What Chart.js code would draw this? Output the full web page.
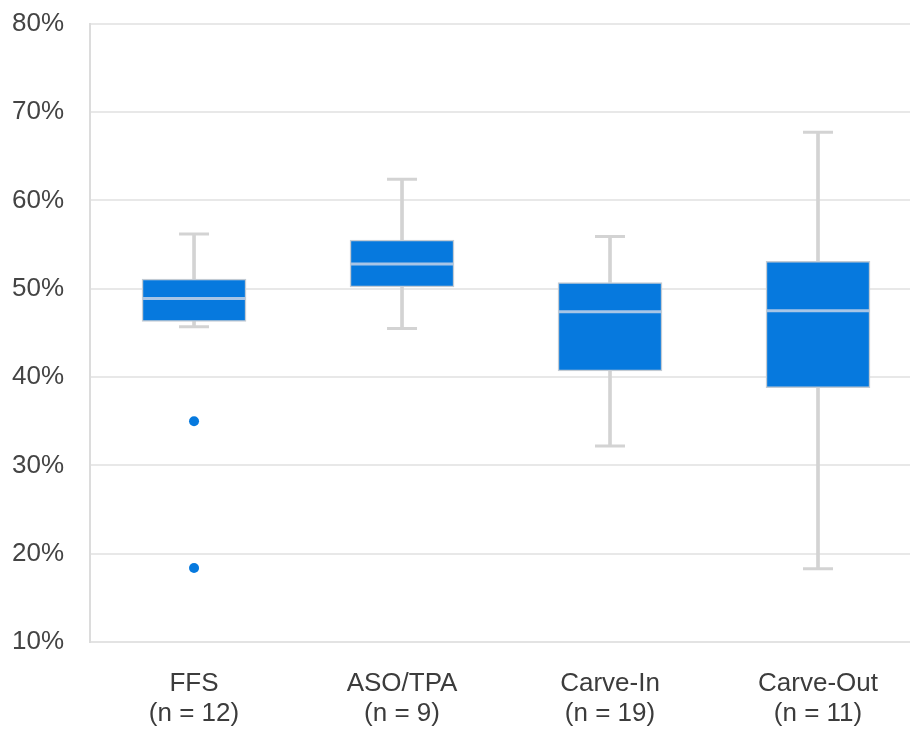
<!DOCTYPE html>
<html>
<head>
<meta charset="utf-8">
<script src="https://cdn.jsdelivr.net/npm/chart.js@4"></script>
<style>
  html, body { margin: 0; padding: 0; background: #fff; overflow: hidden; }
  #wrap { width: 910px; height: 729px; overflow: hidden; position: relative; }
  canvas { display: block; position: absolute; left: -26px; top: -18px; }
</style>
</head>
<body>
<div id="wrap"><canvas id="boxChart" width="960" height="768"></canvas></div>
<script>
// categories and box statistics (percent)
const categories = [["FFS", "(n = 12)"], ["ASO/TPA", "(n = 9)"], ["Carve-In", "(n = 19)"], ["Carve-Out", "(n = 11)"]];
const whiskerMin = [45.7, 45.5, 32.2, 18.3];
const q1 = [46.3, 50.2, 40.7, 38.8];
const medians = [48.9, 52.8, 47.4, 47.5];
const q3 = [51.1, 55.5, 50.7, 53.1];
const whiskerMax = [56.2, 62.4, 55.9, 67.7];
const outlierCats = [0, 0];
const outlierValues = [35.0, 18.4];

const boxBlue = "#0679de";
const whiskerGrey = "#d3d3d3";
const fontFamily = "'Liberation Sans', Arial, Helvetica, sans-serif";

const pairs = (a, b) => a.map((v, i) => [v, b[i]]);

const outlierSets = outlierValues.map((v, i) => ({
    type: "line",
    label: "outlier " + (i + 1),
    data: categories.map((c, ci) => (ci === outlierCats[i] ? v : null)),
    showLine: false,
    pointStyle: "circle",
    pointRadius: 5,
    pointBorderWidth: 0,
    pointBackgroundColor: boxBlue,
    order: 1
}));

new Chart(document.getElementById("boxChart"), {
    type: "bar",
    data: {
        labels: categories,
        datasets: [
            {
                label: "lower whisker",
                data: pairs(whiskerMin, q1),
                backgroundColor: whiskerGrey,
                barThickness: 3,
                grouped: false,
                order: 5
            },
            {
                label: "upper whisker",
                data: pairs(q3, whiskerMax),
                backgroundColor: whiskerGrey,
                barThickness: 3,
                grouped: false,
                order: 5
            },
            {
                label: "box",
                data: pairs(q1, q3),
                backgroundColor: boxBlue,
                borderColor: "#c3cbd3",
                borderWidth: 1.5,
                borderSkipped: false,
                barThickness: 104,
                grouped: false,
                order: 3
            },
            {
                type: "line",
                label: "median",
                data: medians,
                showLine: false,
                pointStyle: "line",
                pointRadius: 51,
                pointHoverRadius: 51,
                pointBorderWidth: 3,
                pointBorderColor: "#a7c5e6",
                order: 1
            },
            {
                type: "line",
                label: "min cap",
                data: whiskerMin,
                showLine: false,
                pointStyle: "line",
                pointRadius: 15,
                pointHoverRadius: 15,
                pointBorderWidth: 3,
                pointBorderColor: whiskerGrey,
                order: 4
            },
            {
                type: "line",
                label: "max cap",
                data: whiskerMax,
                showLine: false,
                pointStyle: "line",
                pointRadius: 15,
                pointHoverRadius: 15,
                pointBorderWidth: 3,
                pointBorderColor: whiskerGrey,
                order: 4
            },
            ...outlierSets
        ]
    },
    options: {
        responsive: false,
        animation: false,
        events: [],
        layout: {
            autoPadding: false,
            padding: { left: 12, right: 12, top: 10, bottom: 2 }
        },
        plugins: {
            legend: { display: false },
            tooltip: { enabled: false }
        },
        scales: {
            x: {
                grid: { display: false },
                border: { color: "#e3e3e3", width: 2 },
                ticks: {
                    color: "#3c3c3c",
                    padding: 19,
                    font: { family: fontFamily, size: 26, lineHeight: 1.15 }
                }
            },
            y: {
                min: 10,
                max: 80,
                grid: { color: "#e8e8e8", lineWidth: 2, drawTicks: false },
                border: { color: "#dcdcdc", width: 2 },
                ticks: {
                    stepSize: 10,
                    color: "#444444",
                    padding: 26,
                    font: { family: fontFamily, size: 26 },
                    callback: v => v + "%"
                }
            }
        }
    }
});
</script>
</body>
</html>
